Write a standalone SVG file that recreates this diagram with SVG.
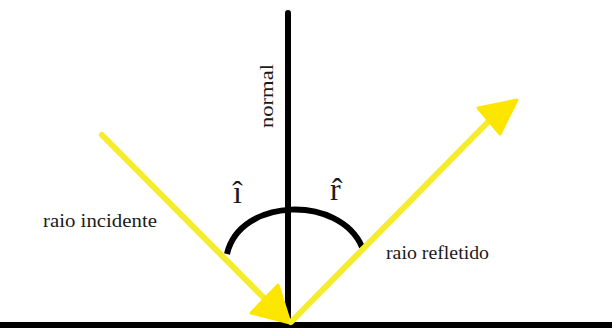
<svg xmlns="http://www.w3.org/2000/svg" width="612" height="329" viewBox="0 0 612 329">
<style>
.ray{stroke:#f4ec2c;stroke-width:6;stroke-linecap:round;fill:none}
.head{fill:#fce600;stroke:#fce600;stroke-width:3;stroke-linejoin:round}
.blk{stroke:#000;fill:none}
.lbl{font-family:"Liberation Serif","Times New Roman",serif;fill:#1a1a1a}
</style>
<rect x="0" y="0" width="612" height="329" fill="#fff"/>
<g id="surface">
<rect x="0" y="322" width="612" height="6" fill="#000"/>
</g>
<g id="normal">
<line class="blk" x1="288" y1="13" x2="288" y2="322" stroke-width="6" stroke-linecap="round"/>
<text class="lbl" font-size="19" transform="translate(273,128) rotate(-90)" textLength="64" lengthAdjust="spacingAndGlyphs">normal</text>
</g>
<g id="angle-arc">
<path class="blk" d="M227,254 C240,197 340,195 362,247" stroke-width="6"/>
</g>
<g id="connectors">
<g id="incident-ray">
<line class="ray" x1="102" y1="135" x2="266" y2="300"/>
<polygon class="head" points="251,313 278,285 290,323"/>
</g>
<g id="reflected-ray">
<line class="ray" x1="291" y1="322" x2="488" y2="122" stroke-width="5"/>
<polygon class="head" points="478,108 500,134 517,100"/>
</g>
</g>
<g id="label-i">
<text class="lbl" font-size="32" x="233" y="203">î</text>
</g>
<g id="label-r">
<text class="lbl" font-size="32" x="330" y="200">r̂</text>
</g>
<g id="label-incident">
<text class="lbl" font-size="18.5" x="43" y="227" textLength="114" lengthAdjust="spacingAndGlyphs">raio incidente</text>
</g>
<g id="label-reflected">
<text class="lbl" font-size="18.5" x="386" y="259" textLength="103" lengthAdjust="spacingAndGlyphs">raio refletido</text>
</g>
</svg>
